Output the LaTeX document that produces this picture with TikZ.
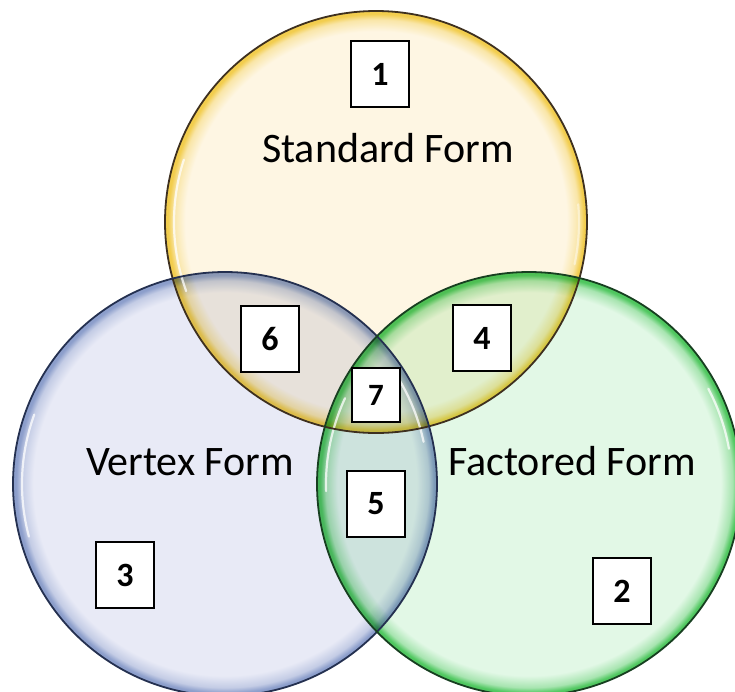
\documentclass[tikz,border=0pt]{standalone}
\usepackage{fontspec}
\setmainfont{Carlito}

% circle palettes: inner fill, glassy rim, dark outline
\definecolor{yfill}{HTML}{FEF6E3}
\definecolor{yrim}{HTML}{F2CD4E}
\definecolor{yline}{HTML}{3E301F}
\definecolor{bfill}{HTML}{E8EAF6}
\definecolor{brim}{HTML}{8C9ECB}
\definecolor{bline}{HTML}{243050}
\definecolor{gfill}{HTML}{E2F8E6}
\definecolor{grim}{HTML}{4FC75F}
\definecolor{gline}{HTML}{173F20}
\colorlet{ymid}{yrim!40!yfill}
\colorlet{bmid}{brim!40!bfill}
\colorlet{gmid}{grim!40!gfill}

% radial shadings: flat inside, coloured rim near the edge (edge = 25bp)
\pgfdeclareradialshading{yglass}{\pgfpointorigin}{color(0bp)=(yfill); color(22.6bp)=(yfill); color(24bp)=(ymid); color(24.65bp)=(yrim); color(25bp)=(yrim); color(50bp)=(yrim)}
\pgfdeclareradialshading{bglass}{\pgfpointorigin}{color(0bp)=(bfill); color(22.6bp)=(bfill); color(24bp)=(bmid); color(24.65bp)=(brim); color(25bp)=(brim); color(50bp)=(brim)}
\pgfdeclareradialshading{gglass}{\pgfpointorigin}{color(0bp)=(gfill); color(22.6bp)=(gfill); color(24bp)=(gmid); color(24.65bp)=(grim); color(25bp)=(grim); color(50bp)=(grim)}

\tikzset{
  numbox/.style={draw=black, line width=1.6pt, fill=white, inner sep=0pt,
    minimum width=58pt, minimum height=66pt,
    font=\fontsize{34}{40}\selectfont\bfseries},
  smallbox/.style={numbox, minimum width=48pt, minimum height=54pt,
    font=\fontsize{31}{36}\selectfont\bfseries},
  formlabel/.style={inner sep=0pt, anchor=base, font=\fontsize{42}{50}\selectfont},
  shine/.style={white, line width=2.2pt, line cap=round, opacity=0.75}
}

\begin{document}
\begin{tikzpicture}[x=1pt, y=-1pt]
  \fill[white] (0,0) rectangle (735,691);
  \useasboundingbox (0,0) rectangle (735,691);

  \coordinate (cs) at (376,222);
  \coordinate (cv) at (225,484);
  \coordinate (cf) at (529,484);

  % translucent bubbles, multiplied so that overlaps mix
  \begin{scope}[blend mode=multiply]
    \path[shading=yglass] (cs) circle[radius=211];
    \path[shading=bglass] (cv) circle[radius=212];
    \path[shading=gglass] (cf) circle[radius=212];
  \end{scope}

  % glass highlights
  \draw[shine] ([shift={(160:202)}]cs) arc[start angle=160, end angle=198, radius=202];
  \draw[shine, opacity=0.45] ([shift={(-5:203)}]cs) arc[start angle=-5, end angle=12, radius=203];
  \draw[shine] ([shift={(165:203)}]cv) arc[start angle=165, end angle=200, radius=203];
  \draw[shine] ([shift={(-32:203)}]cv) arc[start angle=-32, end angle=-12, radius=203];
  \draw[shine] ([shift={(178:203)}]cf) arc[start angle=178, end angle=205, radius=203];
  \draw[shine] ([shift={(-28:203)}]cf) arc[start angle=-28, end angle=-10, radius=203];

  % outlines
  \draw[yline, line width=1.8pt] (cs) circle[radius=211];
  \draw[bline, line width=1.8pt] (cv) circle[radius=212];
  \draw[gline, line width=1.8pt] (cf) circle[radius=212];

  % set names
  \node[formlabel] (standard) at (388,162) {Standard Form};
  \node[formlabel] (vertex) at (190,475) {Vertex Form};
  \node[formlabel] (factored) at (572,475) {Factored Form};

  % region numbers
  \node[numbox] (n1) at (380,74) {1};
  \node[numbox] (n2) at (622,591) {2};
  \node[numbox] (n3) at (125,575) {3};
  \node[numbox] (n4) at (482,338) {4};
  \node[numbox] (n5) at (376,504) {5};
  \node[numbox] (n6) at (270,339) {6};
  \node[smallbox] (n7) at (376,395) {7};
\end{tikzpicture}
\end{document}
